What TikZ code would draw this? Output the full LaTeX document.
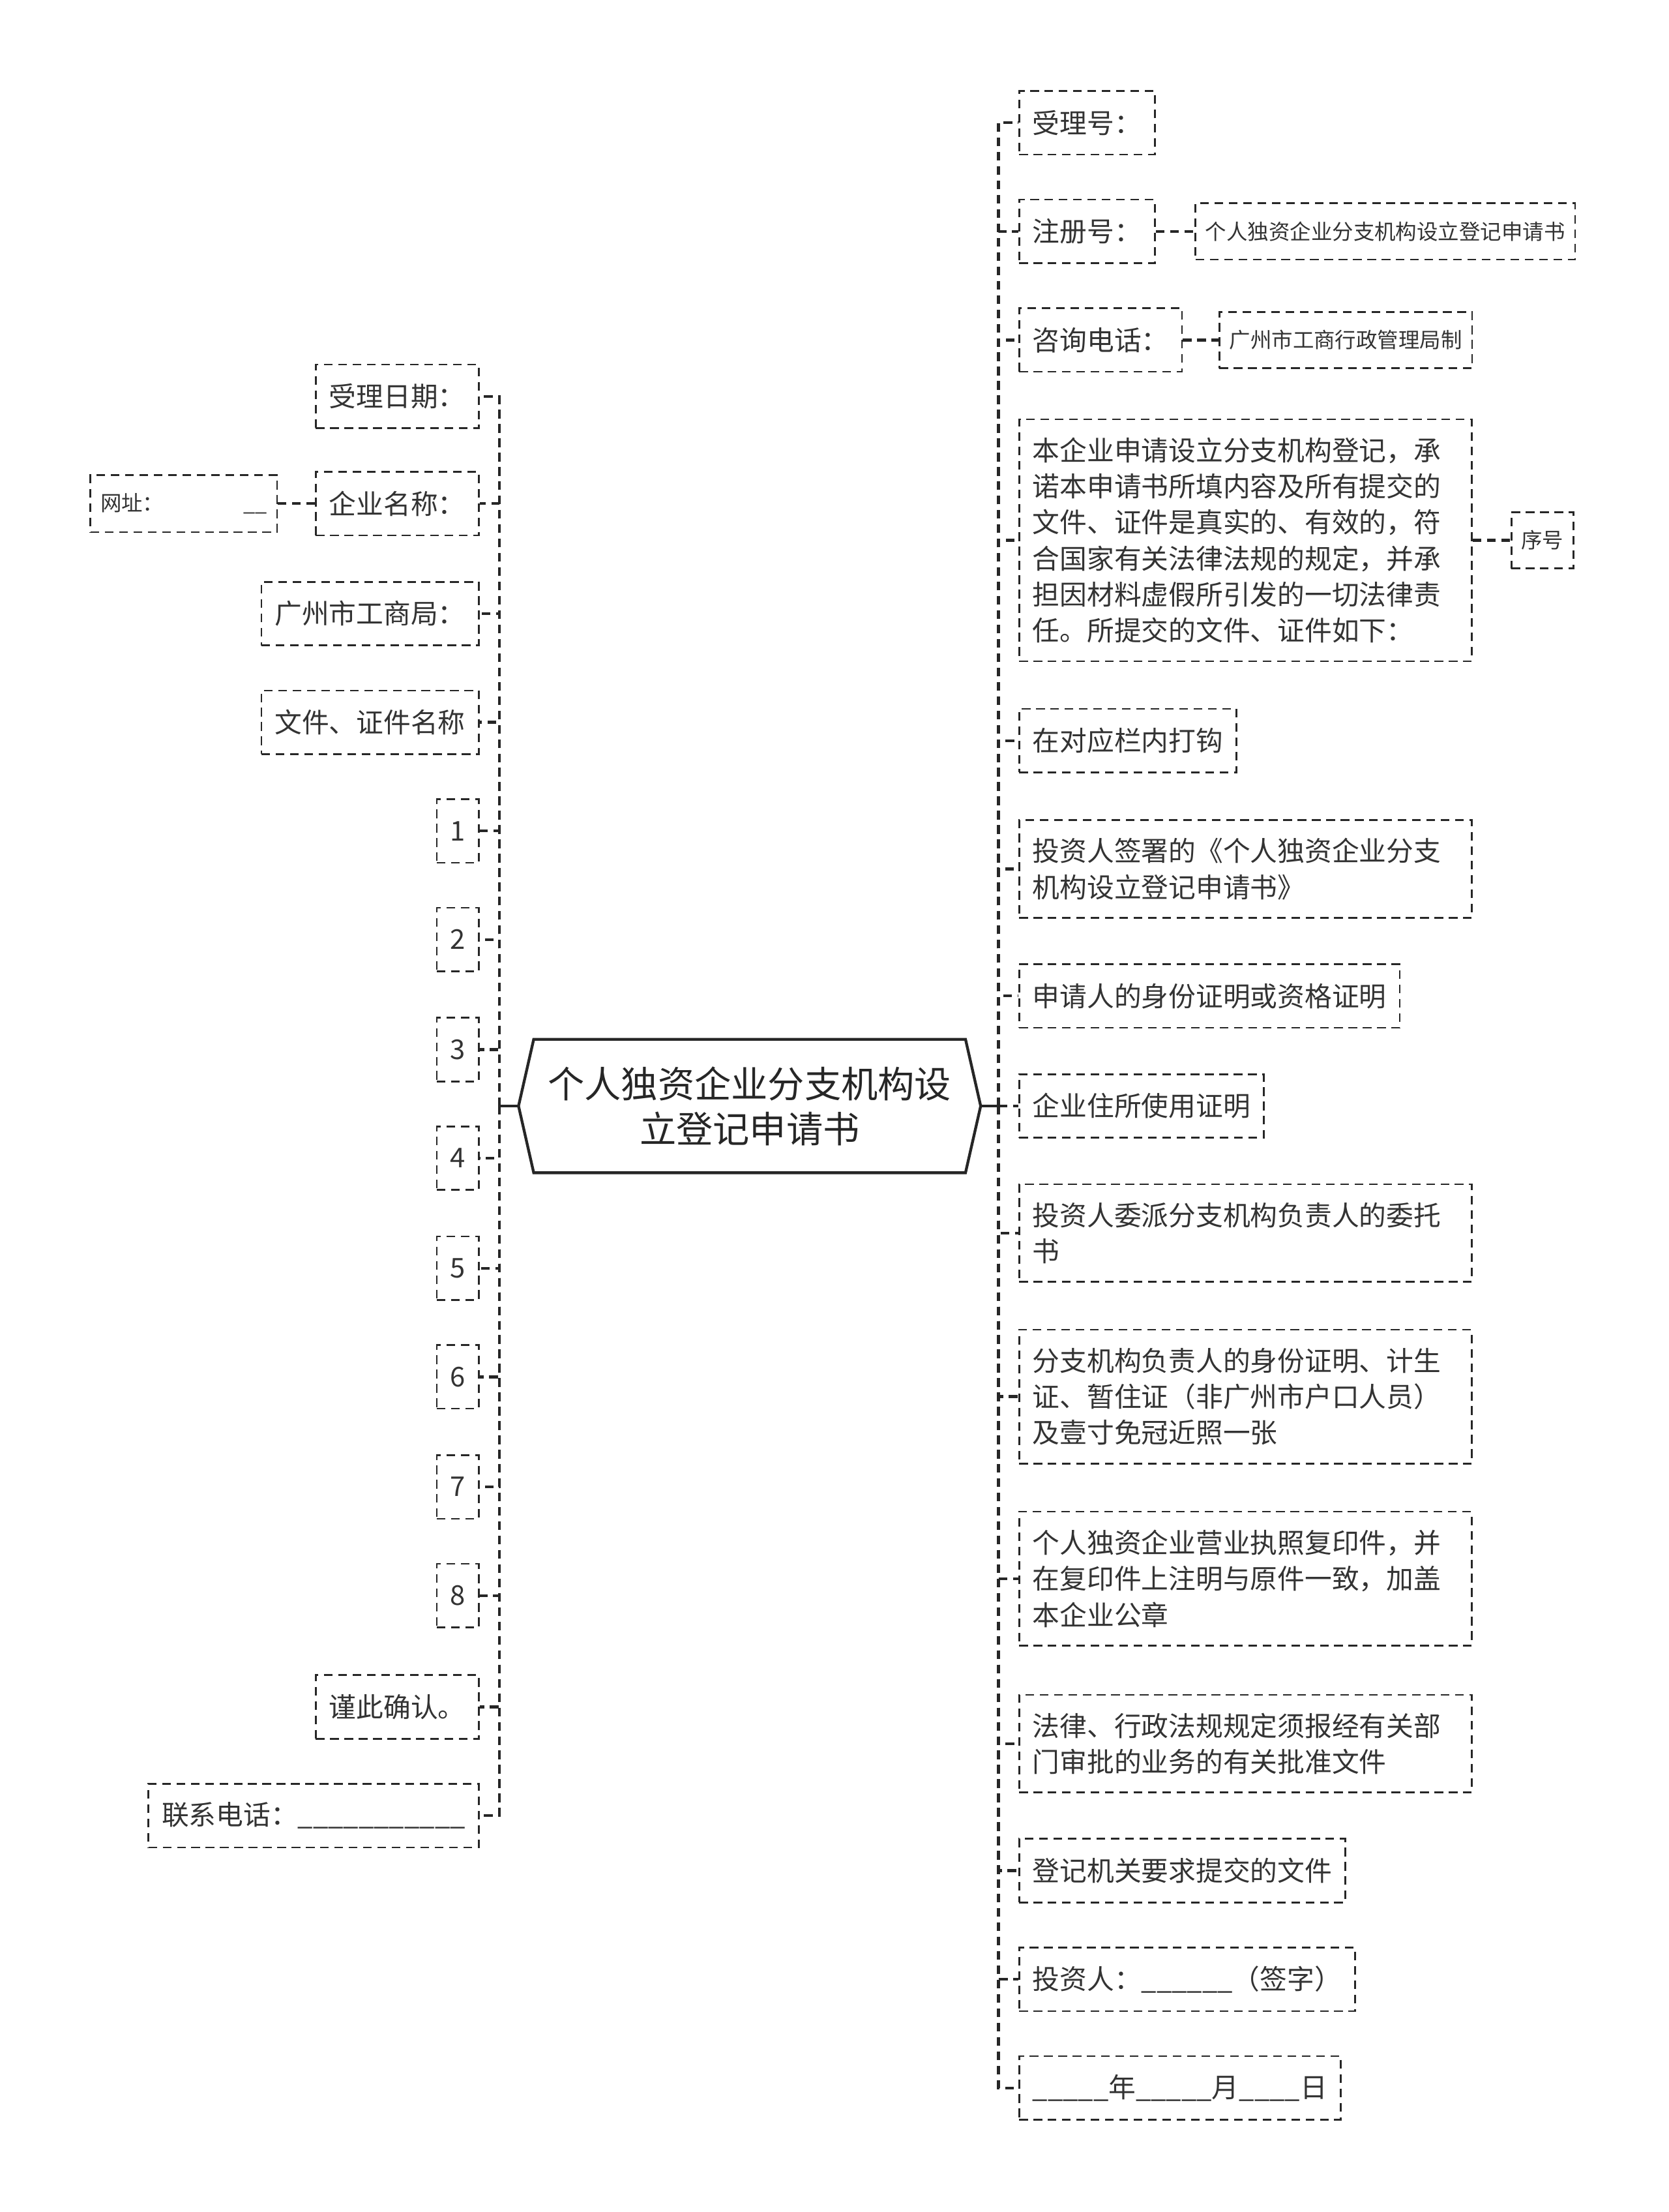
\documentclass[tikz,border=0pt]{standalone}
\usepackage{fontspec}
\newfontfamily\cjk{Noto Sans CJK SC}
\usepackage{tikz}

\begin{document}
\begin{tikzpicture}[x=0.65pt, y=-0.65pt,
		box/.style={draw=black!85, line width=0.8pt, dash pattern=on 4pt off 2.6pt,
			inner xsep=6.15pt, inner ysep=8.4pt, minimum height=29.3pt, text=black!80,
			font=\cjk\fontsize{12.55pt}{16.6pt}\selectfont},
		smallbox/.style={box, inner xsep=4.6pt, minimum height=22.8pt,
			font=\cjk\fontsize{9.75pt}{12pt}\selectfont},
		para/.style={box, align=left, text width=196.3pt},
		link/.style={draw=black!85, line width=1.3pt, dash pattern=on 4pt off 2.6pt}]
	\useasboundingbox (0,0) rectangle (1183,1568);
	
	% 中心主题
	\node[minimum width=212.6pt, minimum height=61.1pt, inner sep=0pt, align=center, text=black!85,
		font=\cjk\fontsize{16.9pt}{20.8pt}\selectfont] (root) at (531.5,784)
		{个人独资企业分支机构设\\立登记申请书};
	\draw[line width=1.3pt, black!85] (root.west) -- ([xshift=7pt]root.north west)
		-- ([xshift=-7pt]root.north east) -- (root.east) -- ([xshift=-7pt]root.south east)
		-- ([xshift=7pt]root.south west) -- cycle;
	\coordinate (lt) at (354,784);
	\coordinate (rt) at (708,784);
	\draw[line width=1.3pt, black!85] (root.west) -- (lt);
	\draw[line width=1.3pt, black!85] (root.east) -- (rt);
	
	% 右边
	\node[box, anchor=west] (r1) at (722,87) {受理号：};
	\node[box, anchor=west] (r2) at (722,164) {注册号：};
	\node[smallbox, anchor=west] (r2a) at (847,164) {个人独资企业分支机构设立登记申请书};
	\node[box, anchor=west] (r3) at (722,241) {咨询电话：};
	\node[smallbox, anchor=west] (r3a) at (864,241) {广州市工商行政管理局制};
	\node[para, anchor=west] (r4) at (722,383) {本企业申请设立分支机构登记，承\\诺本申请书所填内容及所有提交的\\文件、证件是真实的、有效的，符\\合国家有关法律法规的规定，并承\\担因材料虚假所引发的一切法律责\\任。所提交的文件、证件如下：};
	\node[smallbox, anchor=west] (r4a) at (1071,383) {序号};
	\node[box, anchor=west] (r5) at (722,525) {在对应栏内打钩};
	\node[para, anchor=west] (r6) at (722,616) {投资人签署的《个人独资企业分支\\机构设立登记申请书》};
	\node[box, anchor=west] (r7) at (722,706) {申请人的身份证明或资格证明};
	\node[box, anchor=west] (r8) at (722,784) {企业住所使用证明};
	\node[para, anchor=west] (r9) at (722,874) {投资人委派分支机构负责人的委托\\书};
	\node[para, anchor=west] (r10) at (722,990) {分支机构负责人的身份证明、计生\\证、暂住证（非广州市户口人员）\\及壹寸免冠近照一张};
	\node[para, anchor=west] (r11) at (722,1119) {个人独资企业营业执照复印件，并\\在复印件上注明与原件一致，加盖\\本企业公章};
	\node[para, anchor=west] (r12) at (722,1236) {法律、行政法规规定须报经有关部\\门审批的业务的有关批准文件};
	\node[box, anchor=west] (r13) at (722,1326) {登记机关要求提交的文件};
	\node[box, anchor=west] (r14) at (722,1403) {投资人：\_\_\_\_\_\_（签字）};
	\node[box, anchor=west] (r15) at (722,1480) {\_\_\_\_\_年\_\_\_\_\_月\_\_\_\_日};
	
	\draw[link] (rt) |- (r1.west);
	\draw[link] (rt) |- (r2.west);
	\draw[link] (rt) |- (r3.west);
	\draw[link] (rt) |- (r4.west);
	\draw[link] (rt) |- (r5.west);
	\draw[link] (rt) |- (r6.west);
	\draw[link] (rt) |- (r7.west);
	\draw[link] (rt) |- (r8.west);
	\draw[link] (rt) |- (r9.west);
	\draw[link] (rt) |- (r10.west);
	\draw[link] (rt) |- (r11.west);
	\draw[link] (rt) |- (r12.west);
	\draw[link] (rt) |- (r13.west);
	\draw[link] (rt) |- (r14.west);
	\draw[link] (rt) |- (r15.west);
	\draw[link] (r2.east) -- (r2a.west);
	\draw[link] (r3.east) -- (r3a.west);
	\draw[link] (r4.east) -- (r4a.west);
	
	% 左边
	\node[box, anchor=east] (l1) at (340,281) {受理日期：};
	\node[box, anchor=east] (l2) at (340,357) {企业名称：};
	\node[smallbox, anchor=east] (l2a) at (197,357) {网址：\hspace{36.6pt}\_\_};
	\node[box, anchor=east] (l3) at (340,435) {广州市工商局：};
	\node[box, anchor=east] (l4) at (340,512) {文件、证件名称};
	\node[box, anchor=east] (l5) at (340,589) {1};
	\node[box, anchor=east] (l6) at (340,666) {2};
	\node[box, anchor=east] (l7) at (340,744) {3};
	\node[box, anchor=east] (l8) at (340,821) {4};
	\node[box, anchor=east] (l9) at (340,899) {5};
	\node[box, anchor=east] (l10) at (340,976) {6};
	\node[box, anchor=east] (l11) at (340,1054) {7};
	\node[box, anchor=east] (l12) at (340,1131) {8};
	\node[box, anchor=east] (l13) at (340,1210) {谨此确认。};
	\node[box, anchor=east] (l14) at (340,1287) {联系电话：\_\_\_\_\_\_\_\_\_\_\_};
	
	\draw[link] (lt) |- (l1.east);
	\draw[link] (lt) |- (l2.east);
	\draw[link] (lt) |- (l3.east);
	\draw[link] (lt) |- (l4.east);
	\draw[link] (lt) |- (l5.east);
	\draw[link] (lt) |- (l6.east);
	\draw[link] (lt) |- (l7.east);
	\draw[link] (lt) |- (l8.east);
	\draw[link] (lt) |- (l9.east);
	\draw[link] (lt) |- (l10.east);
	\draw[link] (lt) |- (l11.east);
	\draw[link] (lt) |- (l12.east);
	\draw[link] (lt) |- (l13.east);
	\draw[link] (lt) |- (l14.east);
	\draw[link] (l2.west) -- (l2a.east);
\end{tikzpicture}
\end{document}
